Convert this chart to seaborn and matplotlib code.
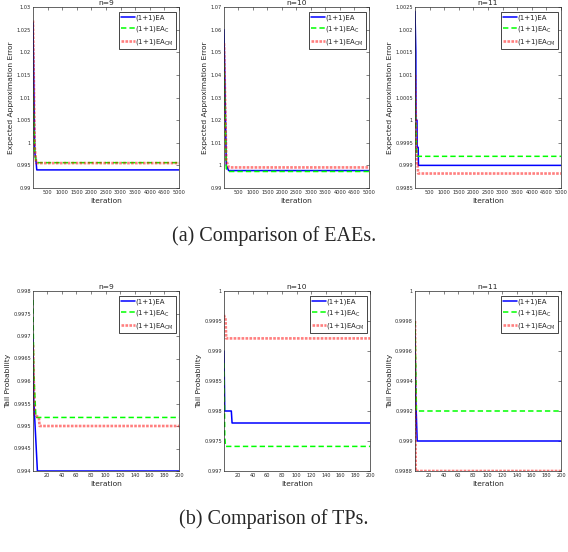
import numpy as np
import pandas as pd
import matplotlib
matplotlib.use("Agg")
import matplotlib.pyplot as plt
import seaborn as sns

sns.set_style("white")
plt.rcParams['font.family'] = ['DejaVu Sans']

# ---------------- data (breakpoints of each curve) ----------------
series_names = ["(1+1)EA", "(1+1)EA$_{\\mathrm{C}}$", "(1+1)EA$_{\\mathrm{CM}}$"]
panel_titles = ["n=9", "n=10", "n=11"]

# (a) Expected approximation error, iterations 1..5000
eae_n9_x_ea = [1, 60, 110, 130, 5000]
eae_n9_y_ea = [1.0265, 0.998, 0.9955, 0.9940, 0.9940]
eae_n9_x_c = [1, 60, 110, 5000]
eae_n9_y_c = [1.012, 0.998, 0.9956, 0.9956]
eae_n9_x_cm = [1, 60, 110, 5000]
eae_n9_y_cm = [1.027, 0.999, 0.9955, 0.9955]

eae_n10_x_ea = [1, 80, 160, 5000]
eae_n10_y_ea = [1.060, 1.000, 0.9977, 0.9977]
eae_n10_x_c = [1, 80, 160, 5000]
eae_n10_y_c = [1.045, 0.9985, 0.9973, 0.9973]
eae_n10_x_cm = [1, 80, 170, 5000]
eae_n10_y_cm = [1.054, 1.002, 0.9991, 0.9991]

eae_n11_x_ea = [1, 30, 35, 70, 75, 110, 120, 5000]
eae_n11_y_ea = [1.0024, 1.0015, 1.0000, 1.0000, 0.9994, 0.9994, 0.9990, 0.9990]
eae_n11_x_c = [1, 60, 5000]
eae_n11_y_c = [1.0005, 0.9992, 0.9992]
eae_n11_x_cm = [1, 60, 90, 110, 5000]
eae_n11_y_cm = [1.0010, 0.9990, 0.9990, 0.99882, 0.99882]

# (b) Tail probability, iterations 1..200
tp_n9_x_ea = [1, 2, 7, 200]
tp_n9_y_ea = [0.9970, 0.9956, 0.9940, 0.9940]
tp_n9_x_c = [1, 2, 5, 200]
tp_n9_y_c = [0.9978, 0.9962, 0.99519, 0.99519]
tp_n9_x_cm = [1, 3, 9, 10, 200]
tp_n9_y_cm = [0.9968, 0.99525, 0.99519, 0.9950, 0.9950]

tp_n10_x_ea = [1, 2, 11, 12, 200]
tp_n10_y_ea = [0.9990, 0.9980, 0.9980, 0.9978, 0.9978]
tp_n10_x_c = [1, 2, 3, 200]
tp_n10_y_c = [0.9988, 0.9976, 0.99741, 0.99741]
tp_n10_x_cm = [1, 2, 3, 4, 200]
tp_n10_y_cm = [0.99960, 0.99955, 0.99955, 0.99921, 0.99921]

tp_n11_x_ea = [1, 2, 4, 200]
tp_n11_y_ea = [0.9997, 0.9993, 0.9990, 0.9990]
tp_n11_x_c = [1, 3, 200]
tp_n11_y_c = [0.99980, 0.99920, 0.99920]
tp_n11_x_cm = [1, 2, 200]
tp_n11_y_cm = [0.99980, 0.99880, 0.99880]

# axis settings
eae_ylims = [(0.99, 1.03), (0.99, 1.07), (0.9985, 1.0025)]
eae_ysteps = [0.005, 0.01, 0.0005]
tp_ylims = [(0.994, 0.998), (0.997, 1.0), (0.9988, 1.0)]
tp_ysteps = [0.0005, 0.0005, 0.0002]
eae_xticks = list(range(500, 5001, 500))
tp_xticks = list(range(20, 201, 20))

eae_data = [
    [(eae_n9_x_ea, eae_n9_y_ea), (eae_n9_x_c, eae_n9_y_c), (eae_n9_x_cm, eae_n9_y_cm)],
    [(eae_n10_x_ea, eae_n10_y_ea), (eae_n10_x_c, eae_n10_y_c), (eae_n10_x_cm, eae_n10_y_cm)],
    [(eae_n11_x_ea, eae_n11_y_ea), (eae_n11_x_c, eae_n11_y_c), (eae_n11_x_cm, eae_n11_y_cm)],
]
tp_data = [
    [(tp_n9_x_ea, tp_n9_y_ea), (tp_n9_x_c, tp_n9_y_c), (tp_n9_x_cm, tp_n9_y_cm)],
    [(tp_n10_x_ea, tp_n10_y_ea), (tp_n10_x_c, tp_n10_y_c), (tp_n10_x_cm, tp_n10_y_cm)],
    [(tp_n11_x_ea, tp_n11_y_ea), (tp_n11_x_c, tp_n11_y_c), (tp_n11_x_cm, tp_n11_y_cm)],
]

colors = ["#0000ff", "#00ff00", "#ff0000"]
styles = [dict(linestyle="-", linewidth=1.1, alpha=1.0),
          dict(linestyle=(0, (3.5, 2)), linewidth=1.1, alpha=1.0),
          dict(linestyle=(0, (1, 0.5)), linewidth=1.9, alpha=0.5)]

W, H = 568, 552
fig = plt.figure(figsize=(W / 100, H / 100), dpi=100)

def px_axes(l, r, t, b):
    return fig.add_axes([l / W, 1 - b / H, (r - l) / W, (b - t) / H])

top_boxes = [(33, 179, 7, 188), (224, 369, 7, 188), (415, 561, 7, 188)]
bot_boxes = [(33, 179, 291, 471), (224, 370, 291, 471), (415, 561, 291, 471)]

def fmt(v):
    return ("%.5f" % v).rstrip("0").rstrip(".")

def draw(ax, data, xmax, xticks, ylim, ystep, ylabel, title, box):
    for (xs, ys), name, c, st in zip(data, series_names, colors, styles):
        df = pd.DataFrame({"x": xs, "y": ys})
        sns.lineplot(data=df, x="x", y="y", ax=ax, color=c,
                     label=name, estimator=None, sort=False, **st)
    ax.set_xlim(1, xmax)
    ax.set_ylim(*ylim)
    ax.set_xticks(xticks)
    ax.set_xticklabels([str(t) for t in xticks])
    yt = np.round(np.arange(ylim[0], ylim[1] + ystep / 2, ystep), 6)
    ax.set_yticks(yt)
    ax.set_yticklabels([fmt(v) for v in yt])
    ax.tick_params(direction="in", length=2, width=0.4, labelsize=3.6, pad=1.5,
                   top=True, right=True, colors="#262626", labelcolor="#262626")
    for sp in ax.spines.values():
        sp.set_linewidth(0.5)
        sp.set_color("#262626")
    ax.set_xlabel("Iteration", fontsize=5.4, labelpad=2, color="#262626")
    ax.set_ylabel(ylabel, fontsize=5.4, labelpad=1.5, color="#262626")
    ax.set_title(title, fontsize=5.4, pad=1.5, color="#262626")
    l, r, t, b = box
    leg = ax.legend(loc="upper right", bbox_to_anchor=(1 - 3.0 / (r - l), 1 - 5.0 / (b - t)),
                    borderaxespad=0, fontsize=5.0, handlelength=2.0, handletextpad=0.1,
                    borderpad=0.3, labelspacing=0.45, fancybox=False,
                    framealpha=1, edgecolor="#262626")
    leg.get_frame().set_linewidth(0.6)

for i in range(3):
    ax = px_axes(*top_boxes[i])
    draw(ax, eae_data[i], 5000, eae_xticks, eae_ylims[i], eae_ysteps[i],
         "Expected Approximation Error", panel_titles[i], top_boxes[i])
    ax2 = px_axes(*bot_boxes[i])
    draw(ax2, tp_data[i], 200, tp_xticks, tp_ylims[i], tp_ysteps[i],
         "Tail Probability", panel_titles[i], bot_boxes[i])

fig.text(274 / W, 1 - 236 / H, "(a) Comparison of EAEs.", ha="center", va="center",
         fontsize=14.5, family="Liberation Serif")
fig.text(274 / W, 1 - 519 / H, "(b) Comparison of TPs.", ha="center", va="center",
         fontsize=14.5, family="Liberation Serif")

fig.savefig("out.png", dpi=100)
